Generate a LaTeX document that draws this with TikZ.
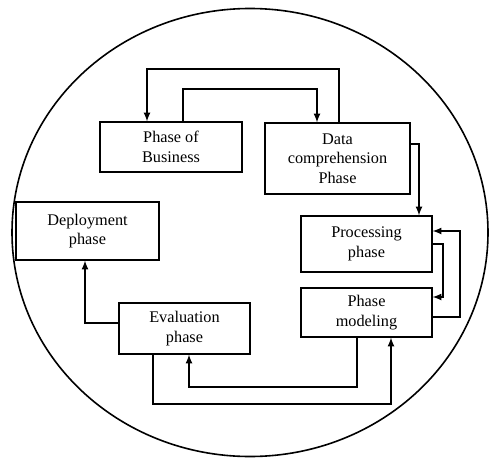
\documentclass[tikz,border=0pt]{standalone}
\usepackage{fontspec}
\setmainfont{Liberation Serif}
\begin{document}
\begin{tikzpicture}[x=0.75pt,y=-0.75pt]
\tikzset{base/.style={draw,line width=0.8pt},
phase/.style={base,align=center,inner sep=0pt,font=\fontsize{12.2}{14.5}\selectfont},
every path/.style={>=latex},flow/.style={->,line width=1.3pt}}
\useasboundingbox (0,0) rectangle (489,457);
\draw[line width=1.2pt] (250,232.5) ellipse [x radius=178.5pt, y radius=168pt];
% the six phases
\node[phase,minimum width=106.5pt,minimum height=37.5pt] at (171,147) (BIZ) {Phase of\\Business};
\node[phase,minimum width=108.75pt,minimum height=53.25pt] at (337.5,158.5) (DATA) {Data\\comprehension\\Phase};
\node[phase,minimum width=98.25pt,minimum height=42pt] at (366.5,244) (PROC) {Processing\\phase};
\node[phase,minimum width=98.25pt,minimum height=36.75pt] at (366.5,312.5) (MODEL) {Phase\\modeling};
\node[phase,minimum width=107.25pt,minimum height=43.5pt] at (87.5,231) (DEPLOY) {Deployment\\phase};
\node[phase,minimum width=98.25pt,minimum height=38.25pt] at (184.5,328.5) (EVAL) {Evaluation\\phase};
% corner points of the loops
\coordinate (TOPL) at (147,69);
\coordinate (TOPR) at (339,69);
\coordinate (MIDL) at (183,89);
\coordinate (MIDR) at (317,89);
\coordinate (DOWN) at (419,144);
\coordinate (INR) at (443,244);
\coordinate (OUTR) at (460,231);
\coordinate (LOWA) at (357,387);
\coordinate (LOWB) at (189,387);
\coordinate (LOWC) at (153,404);
\coordinate (LOWD) at (391,404);
\coordinate (LEFT) at (85,323);
\draw[flow] (DATA.north -| TOPR) |- (TOPL) -- (BIZ.north -| TOPL);
\draw[flow] (BIZ.north -| MIDL) |- (MIDR) -- (DATA.north -| MIDR);
\draw[flow] (DATA.east |- DOWN) -- (DOWN) -- (PROC.north -| DOWN);
\draw[flow] (PROC.east |- INR) -- (INR) -- ++(0,53) -- (MODEL.east |- 0,297);
\draw[flow] (MODEL.east |- 0,317) -| (OUTR) -- (PROC.east |- OUTR);
\draw[flow] (MODEL.south -| LOWA) -- (LOWA) -- (LOWB) -- (EVAL.south -| LOWB);
\draw[flow] (EVAL.south -| LOWC) |- (LOWD) -- (MODEL.south -| LOWD);
\draw[flow] (EVAL.west |- LEFT) -| (DEPLOY.south -| LEFT);
\end{tikzpicture}
\end{document}
